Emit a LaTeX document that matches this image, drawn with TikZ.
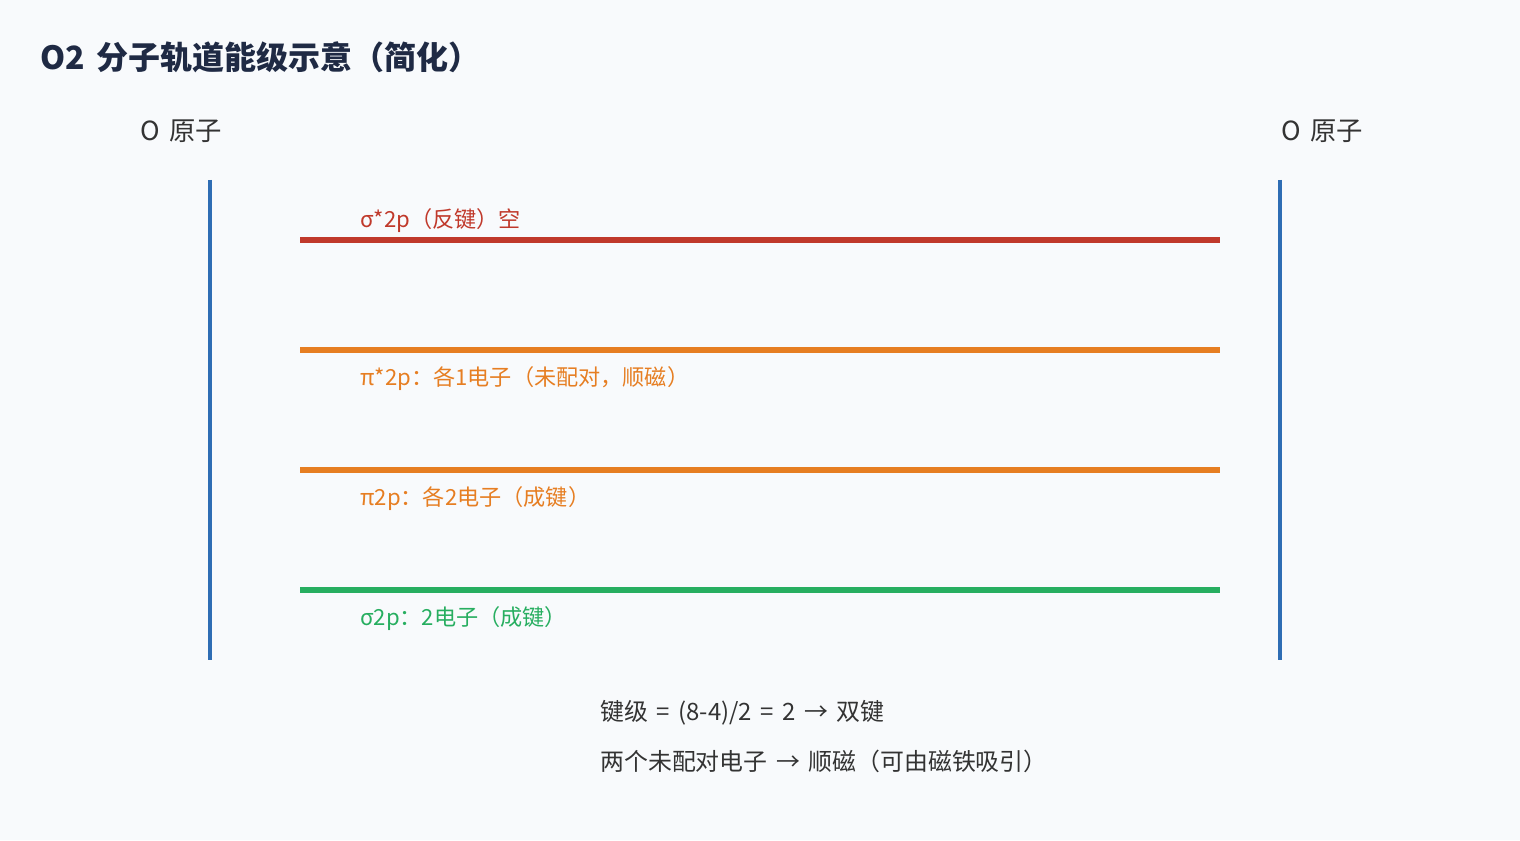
\documentclass[tikz,border=0pt]{standalone}
\usepackage{fontspec}
\newfontfamily\cjk[WordSpace=1.6]{Noto Sans CJK SC}
\usepackage{tikz}
\usetikzlibrary{positioning}
\definecolor{bgc}{HTML}{F8FAFC}
\definecolor{titlec}{HTML}{1F2A44}
\definecolor{textc}{HTML}{333333}
\definecolor{axisc}{HTML}{2E6DB4}
\definecolor{antic}{HTML}{C0392B}
\definecolor{pic}{HTML}{E67E22}
\definecolor{sigc}{HTML}{27AE60}

\begin{document}
\begin{tikzpicture}[
		title/.style={anchor=west, inner sep=0pt, font=\cjk\bfseries\fontsize{18.2}{21}\selectfont, text=titlec},
		atom/.style={anchor=west, inner sep=0pt, font=\cjk\fontsize{15}{18}\selectfont, text=textc},
		axis/.style={draw=axisc, line width=2.3pt},
		level/.style={line width=3.4pt},
		lvlabel/.style={anchor=west, inner sep=0pt, text height=0.8em, text depth=0.2em, font=\cjk\fontsize{12.6}{15}\selectfont},
		note/.style={anchor=west, inner sep=0pt, text height=0.8em, text depth=0.2em, font=\cjk\fontsize{13.6}{16}\selectfont, text=textc}
		]
		\fill[bgc] (0,0) rectangle (30.4,16.8);
		\useasboundingbox (0,0) rectangle (30.4,16.8);
		
		\node[title] (ttl) at (0.8, 15.66) {O2 分子轨道能级示意（简化）};
		\node[atom] (atl) at (2.8, 14.18) {O 原子};
		\node[atom] (atr) at (25.62, 14.18) {O 原子};
		
		% atom axes
		\coordinate (axl1) at (4.2, 13.2);
		\coordinate (axl2) at (4.2, 3.6);
		\coordinate (axr1) at (25.6, 13.2);
		\coordinate (axr2) at (25.6, 3.6);
		\draw[axis] (axl1) -- (axl2);
		\draw[axis] (axr1) -- (axr2);
		
		% energy levels
		\coordinate (s1l) at (6, 12);
		\coordinate (s1r) at (24.4, 12);
		\coordinate (p1l) at (6, 9.8);
		\coordinate (p1r) at (24.4, 9.8);
		\coordinate (p2l) at (6, 7.4);
		\coordinate (p2r) at (24.4, 7.4);
		\coordinate (s2l) at (6, 5);
		\coordinate (s2r) at (24.4, 5);
		\draw[level, draw=antic] (s1l) -- (s1r);
		\draw[level, draw=pic] (p1l) -- (p1r);
		\draw[level, draw=pic] (p2l) -- (p2r);
		\draw[level, draw=sigc] (s2l) -- (s2r);
		
		\node[lvlabel, text=antic] (ls1) at (7.2, 12.35) {σ*2p（反键）空};
		\node[lvlabel, text=pic] (lp1) at (7.2, 9.2) {π*2p：各1电子（未配对，顺磁）};
		\node[lvlabel, text=pic] (lp2) at (7.2, 6.8) {π2p：各2电子（成键）};
		\node[lvlabel, text=sigc] (ls2) at (7.2, 4.4) {σ2p：2电子（成键）};
		
		\node[note] (bo) at (12, 2.5) {键级 = (8-4)/2 = 2 → 双键};
		\node[note] (mag) at (12, 1.5) {两个未配对电子 → 顺磁（可由磁铁吸引）};
		
		\end{tikzpicture}
\end{document}
